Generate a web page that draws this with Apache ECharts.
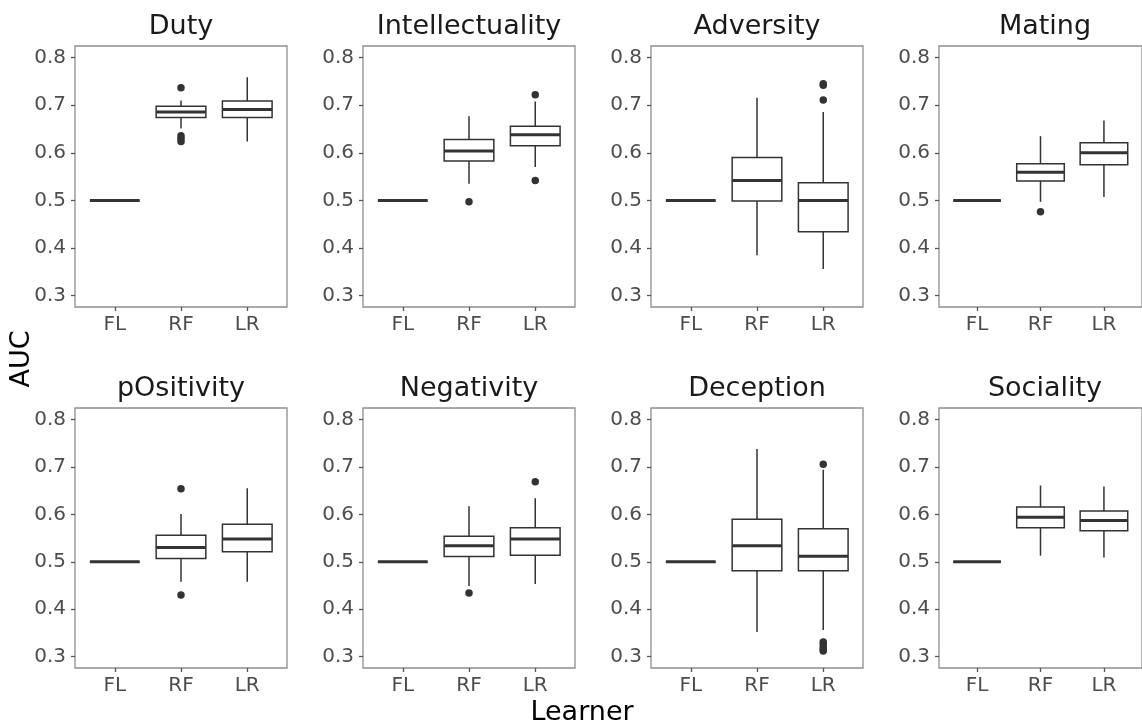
<!DOCTYPE html>
<html>
<head>
<meta charset="utf-8">
<title>AUC by learner</title>
<script src="https://cdn.jsdelivr.net/npm/echarts@6/dist/echarts.min.js"></script>
<style>
  html, body { margin: 0; padding: 0; background: #ffffff; }
  #chart { width: 1142px; height: 727px; }
</style>
</head>
<body>
<div id="chart"></div>
<script>
// Panels, learners and axis ticks
const traits = ['Duty', 'Intellectuality', 'Adversity', 'Mating',
                'pOsitivity', 'Negativity', 'Deception', 'Sociality'];
const learners = ['FL', 'RF', 'LR'];
const yTicks = [0.3, 0.4, 0.5, 0.6, 0.7, 0.8];

// Box summaries per learner (FL, RF, LR): [lower whisker, Q1, median, Q3, upper whisker]
const dutyBox = [[0.5, 0.5, 0.5, 0.5, 0.5], [0.651, 0.674, 0.686, 0.698, 0.710], [0.624, 0.674, 0.691, 0.709, 0.759]];
const intellectBox = [[0.5, 0.5, 0.5, 0.5, 0.5], [0.535, 0.583, 0.604, 0.628, 0.677], [0.570, 0.615, 0.638, 0.656, 0.708]];
const adversityBox = [[0.5, 0.5, 0.5, 0.5, 0.5], [0.385, 0.499, 0.542, 0.590, 0.716], [0.356, 0.434, 0.500, 0.537, 0.686]];
const matingBox = [[0.5, 0.5, 0.5, 0.5, 0.5], [0.497, 0.541, 0.559, 0.577, 0.635], [0.507, 0.575, 0.600, 0.621, 0.668]];
const positivityBox = [[0.5, 0.5, 0.5, 0.5, 0.5], [0.458, 0.507, 0.530, 0.556, 0.601], [0.458, 0.521, 0.548, 0.579, 0.655]];
const negativityBox = [[0.5, 0.5, 0.5, 0.5, 0.5], [0.449, 0.511, 0.534, 0.554, 0.617], [0.453, 0.514, 0.548, 0.572, 0.634]];
const deceptionBox = [[0.5, 0.5, 0.5, 0.5, 0.5], [0.352, 0.481, 0.534, 0.590, 0.738], [0.356, 0.481, 0.512, 0.570, 0.694]];
const socialityBox = [[0.5, 0.5, 0.5, 0.5, 0.5], [0.513, 0.572, 0.594, 0.6155, 0.661], [0.509, 0.5655, 0.587, 0.607, 0.659]];

// Outlying runs per learner (FL, RF, LR)
const dutyOut = [[], [0.737, 0.636, 0.630, 0.624], []];
const intellectOut = [[], [0.497], [0.722, 0.542]];
const adversityOut = [[], [], [0.745, 0.742, 0.711]];
const matingOut = [[], [0.476], []];
const positivityOut = [[], [0.654, 0.430], []];
const negativityOut = [[], [0.434], [0.669]];
const deceptionOut = [[], [], [0.706, 0.331, 0.326, 0.320, 0.315, 0.312]];
const socialityOut = [[], [], []];

const boxes = [dutyBox, intellectBox, adversityBox, matingBox,
               positivityBox, negativityBox, deceptionBox, socialityBox];
const outliers = [dutyOut, intellectOut, adversityOut, matingOut,
                  positivityOut, negativityOut, deceptionOut, socialityOut];

// Layout of the 2 x 4 facet grid
const FONT = 'DejaVu Sans';
const colLeft = [75, 363, 651, 939];
const panelWidth = 212;
const rowTop = [46, 408];
const rowHeight = [261, 260];
const yMin = 0.276, yMax = 0.8245;
const boxFrac = 0.75;
const ink = '#333333';

function renderBox(params, api) {
  const x = api.value(0);
  const pLo = api.coord([x, api.value(1)]);
  const pQ1 = api.coord([x, api.value(2)]);
  const pMed = api.coord([x, api.value(3)]);
  const pQ3 = api.coord([x, api.value(4)]);
  const pHi = api.coord([x, api.value(5)]);
  const half = api.size([boxFrac, 0])[0] / 2;
  const thin = { stroke: ink, lineWidth: 1.5, fill: null };
  return {
    type: 'group',
    children: [
      { type: 'line', shape: { x1: pHi[0], y1: pHi[1], x2: pQ3[0], y2: pQ3[1] }, style: thin },
      { type: 'line', shape: { x1: pLo[0], y1: pLo[1], x2: pQ1[0], y2: pQ1[1] }, style: thin },
      { type: 'rect', shape: { x: pQ3[0] - half, y: pQ3[1], width: 2 * half, height: pQ1[1] - pQ3[1] },
        style: { fill: '#ffffff', stroke: ink, lineWidth: 1.5 } },
      { type: 'line', shape: { x1: pMed[0] - half, y1: pMed[1], x2: pMed[0] + half, y2: pMed[1] },
        style: { stroke: ink, lineWidth: 3 } }
    ]
  };
}

const grid = [], xAxis = [], yAxis = [], series = [], graphic = [];

traits.forEach(function (name, i) {
  const row = Math.floor(i / 4), col = i % 4;
  grid.push({
    left: colLeft[col], top: rowTop[row], width: panelWidth, height: rowHeight[row],
    show: true, borderColor: '#8f8f8f', borderWidth: 1.3, backgroundColor: '#ffffff',
    containLabel: false
  });
  xAxis.push({
    gridIndex: i, type: 'value', min: -0.6, max: 2.6,
    splitLine: { show: false },
    axisLine: { show: false, onZero: false },
    axisTick: { show: true, length: 4, lineStyle: { color: '#555555', width: 1.3 }, customValues: [0, 1, 2] },
    axisLabel: {
      customValues: [0, 1, 2], margin: 8,
      color: '#4d4d4d', fontSize: 20, fontFamily: FONT,
      formatter: function (v) { return learners[Math.round(v)]; }
    }
  });
  yAxis.push({
    gridIndex: i, type: 'value', min: yMin, max: yMax,
    splitLine: { show: false },
    axisLine: { show: false, onZero: false },
    axisTick: { show: true, length: 4, lineStyle: { color: '#555555', width: 1.3 }, customValues: yTicks },
    axisLabel: {
      customValues: yTicks, margin: 9,
      color: '#4d4d4d', fontSize: 20, fontFamily: FONT,
      formatter: function (v) { return v.toFixed(1); }
    }
  });
  series.push({
    type: 'custom', xAxisIndex: i, yAxisIndex: i,
    renderItem: renderBox,
    encode: { x: 0, y: [1, 2, 3, 4, 5] },
    data: boxes[i].map(function (b, k) { return [k].concat(b); }),
    silent: true
  });
  const pts = [];
  outliers[i].forEach(function (vals, k) { vals.forEach(function (v) { pts.push([k, v]); }); });
  series.push({
    type: 'scatter', xAxisIndex: i, yAxisIndex: i,
    symbol: 'circle', symbolSize: 7.5,
    itemStyle: { color: ink, opacity: 1 },
    data: pts, silent: true, z: 5
  });
  graphic.push({
    type: 'text',
    x: colLeft[col] + panelWidth / 2,
    y: rowTop[row] - 19,
    style: { text: name, fill: '#1a1a1a', font: '27px "DejaVu Sans"', textAlign: 'center', textVerticalAlign: 'middle' }
  });
});

graphic.push({
  type: 'text', x: 22, y: 359, rotation: Math.PI / 2,
  style: { text: 'AUC', fill: '#000000', font: '27px "DejaVu Sans"', textAlign: 'center', textVerticalAlign: 'middle' }
});
graphic.push({
  type: 'text', x: 582, y: 713,
  style: { text: 'Learner', fill: '#000000', font: '27px "DejaVu Sans"', textAlign: 'center', textVerticalAlign: 'middle' }
});

const chart = echarts.init(document.getElementById('chart'), null, { renderer: 'canvas' });
chart.setOption({
  animation: false,
  backgroundColor: '#ffffff',
  textStyle: { fontFamily: FONT },
  grid: grid,
  xAxis: xAxis,
  yAxis: yAxis,
  series: series,
  graphic: graphic
});
</script>
</body>
</html>
